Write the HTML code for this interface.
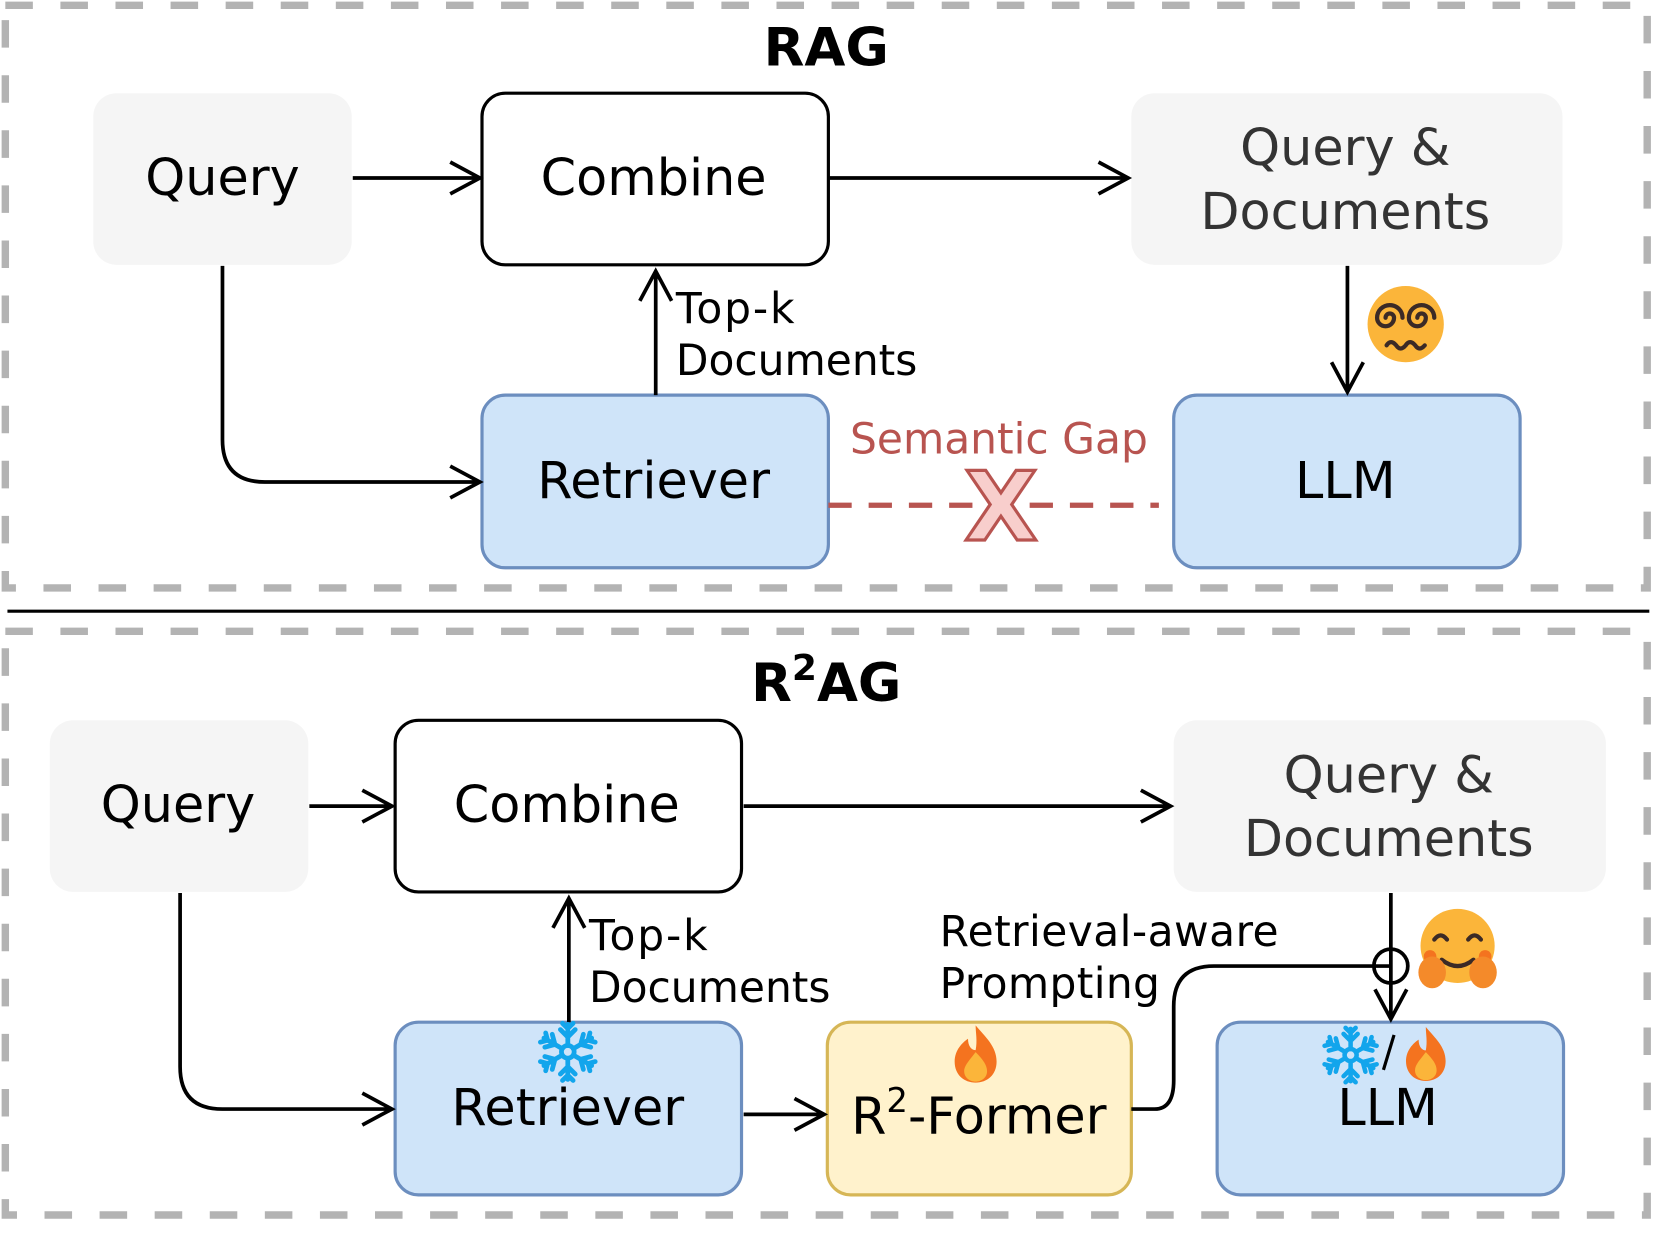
<!DOCTYPE html>
<html><head><meta charset="utf-8"><style>
html,body{margin:0;padding:0;background:#fff;}
svg{display:block;}
text{font-family:"DejaVu Sans","Liberation Sans",sans-serif;}
</style></head><body>
<svg width="1661" height="1233" viewBox="0 0 1568 1164" xmlns="http://www.w3.org/2000/svg">
<defs>
<g id="fire"><path d="M0,-30 C10,-18 22,-8 22,8 C22,22 12,30 0,30 C-12,30 -22,22 -22,8 C-22,-4 -14,-12 -8,-16 C-8,-8 -4,-4 0,-4 C2,-14 0,-22 0,-30 Z" fill="#f4731f"/><path d="M0,-2 C8,6 12,12 12,18 C12,25 6,29 0,29 C-6,29 -12,25 -12,18 C-12,12 -6,6 0,-2 Z" fill="#fbb53a"/></g>
<g id="snow" stroke="#12a5ec" stroke-width="4.5" fill="none" stroke-linecap="round"><circle r="6"/><g id="arm"><path d="M0,-6 L0,-26 M0,-14 L-7,-21 M0,-14 L7,-21 M0,-22 L-5,-27 M0,-22 L5,-27"/></g><use href="#arm" transform="rotate(60)"/><use href="#arm" transform="rotate(120)"/><use href="#arm" transform="rotate(180)"/><use href="#arm" transform="rotate(240)"/><use href="#arm" transform="rotate(300)"/></g>
</defs>
<g fill="none" stroke="#b3b3b3" stroke-width="7" stroke-dasharray="26 26">
<rect x="5" y="5" width="1550" height="550"/>
<rect x="5" y="596" width="1550" height="551"/>
</g>
<line x1="7" y1="577" x2="1557" y2="577" stroke="#000" stroke-width="3"/>

<text x="780" y="62" font-size="50" font-weight="bold" text-anchor="middle">RAG</text>
<rect x="88" y="88" width="244" height="162" rx="22" fill="#f5f5f5"/>
<text x="210" y="184" font-size="48" text-anchor="middle">Query</text>
<rect x="455" y="88" width="327" height="162" rx="22" fill="#fff" stroke="#000" stroke-width="3"/>
<text x="617" y="184" font-size="48" text-anchor="middle">Combine</text>
<rect x="1068" y="88" width="407" height="162" rx="22" fill="#f5f5f5"/>
<text x="1270" y="156" font-size="48" text-anchor="middle" fill="#333">Query &amp;</text>
<text x="1270" y="216" font-size="48" text-anchor="middle" fill="#333">Documents</text>
<rect x="455" y="373" width="327" height="163" rx="22" fill="#cfe4f9" stroke="#6c8ebf" stroke-width="3"/>
<text x="617" y="470" font-size="48" text-anchor="middle">Retriever</text>
<rect x="1108" y="373" width="327" height="163" rx="22" fill="#cfe4f9" stroke="#6c8ebf" stroke-width="3"/>
<text x="1270" y="470" font-size="48" text-anchor="middle">LLM</text>

<g stroke="#000" stroke-width="3.5" fill="none">
<path d="M333,168 L453,168 M425,153 L453,168 L425,183"/>
<path d="M783,168 L1065,168 M1037,153 L1065,168 L1037,183"/>
<path d="M210,251 L210,415 Q210,455 250,455 L453,455 M425,440 L453,455 L425,470"/>
<path d="M619,373 L619,256 M604,284 L619,256 L634,284"/>
<path d="M1272,251 L1272,370 M1257,342 L1272,370 L1287,342"/>
</g>
<text x="638" y="305" font-size="40" textLength="112">Top-k</text>
<text x="638" y="354" font-size="40" textLength="228">Documents</text>
<text x="943" y="428" font-size="40" text-anchor="middle" fill="#b85450">Semantic Gap</text>
<line x1="782" y1="477" x2="1094" y2="477" stroke="#b85450" stroke-width="5" stroke-dasharray="22 16"/>
<text x="945" y="510" font-size="90" font-weight="bold" text-anchor="middle" fill="#f8cecc" stroke="#b85450" stroke-width="3">X</text>
<circle cx="1327" cy="306" r="36" fill="#fbb53a"/>
<g stroke="#3b2a26" stroke-width="4" fill="none" stroke-linecap="round">
<path d="M1312,300 m-4,0 a4,4 0 1,1 8,0 a8,8 0 1,1 -16,0 a12,12 0 1,1 24,0"/>
<path d="M1342,300 m-4,0 a4,4 0 1,1 8,0 a8,8 0 1,1 -16,0 a12,12 0 1,1 24,0"/>
<path d="M1309,326 q4,-6 9,0 q4,6 9,0 q4,-6 9,0 q4,6 9,0"/>
</g>

<text x="780" y="662" font-size="50" font-weight="bold" text-anchor="middle">R<tspan dy="-20" font-size="34">2</tspan><tspan dy="20">AG</tspan></text>
<rect x="47" y="680" width="244" height="162" rx="22" fill="#f5f5f5"/>
<text x="168" y="776" font-size="48" text-anchor="middle">Query</text>
<rect x="373" y="680" width="327" height="162" rx="22" fill="#fff" stroke="#000" stroke-width="3"/>
<text x="535" y="776" font-size="48" text-anchor="middle">Combine</text>
<rect x="1108" y="680" width="408" height="162" rx="22" fill="#f5f5f5"/>
<text x="1311" y="748" font-size="48" text-anchor="middle" fill="#333">Query &amp;</text>
<text x="1311" y="808" font-size="48" text-anchor="middle" fill="#333">Documents</text>
<rect x="373" y="965" width="327" height="163" rx="22" fill="#cfe4f9" stroke="#6c8ebf" stroke-width="3"/>
<text x="536" y="1062" font-size="48" text-anchor="middle">Retriever</text>
<rect x="781" y="965" width="287" height="163" rx="22" fill="#fff2cc" stroke="#d6b656" stroke-width="3"/>
<text x="924" y="1070" font-size="48" text-anchor="middle">R<tspan dy="-20" font-size="32">2</tspan><tspan dy="20">-Former</tspan></text>
<rect x="1149" y="965" width="327" height="163" rx="22" fill="#cfe4f9" stroke="#6c8ebf" stroke-width="3"/>
<text x="1310" y="1062" font-size="48" text-anchor="middle">LLM</text>

<g stroke="#000" stroke-width="3.5" fill="none">
<path d="M292,761 L370,761 M342,746 L370,761 L342,776"/>
<path d="M702,761 L1105,761 M1077,746 L1105,761 L1077,776"/>
<path d="M170,843 L170,1007 Q170,1047 210,1047 L370,1047 M342,1032 L370,1047 L342,1062"/>
<path d="M537,965 L537,848 M522,876 L537,848 L552,876"/>
<path d="M702,1052 L778,1052 M750,1037 L778,1052 L750,1067"/>
<path d="M1068,1047 L1090,1047 Q1108,1047 1108,1020 L1108,950 Q1108,912 1146,912 L1313,912"/>
<path d="M1313,843 L1313,962 M1298,934 L1313,962 L1328,934"/>
<circle cx="1313" cy="912" r="16"/>
</g>
<text x="556" y="897" font-size="40" textLength="112">Top-k</text>
<text x="556" y="946" font-size="40" textLength="228">Documents</text>
<text x="887" y="893" font-size="40" textLength="320">Retrieval-aware</text>
<text x="887" y="942" font-size="40" textLength="208">Prompting</text>
<circle cx="1376" cy="893" r="35" fill="#fbb53a"/>
<circle cx="1350" cy="903" r="6" fill="#f4731f"/><circle cx="1402" cy="903" r="6" fill="#f4731f"/>
<g stroke="#3b2a26" stroke-width="4" fill="none" stroke-linecap="round">
<path d="M1354,887 q6,-8 12,0 M1386,887 q6,-8 12,0"/><path d="M1361,906 q15,12 30,0"/>
</g>
<ellipse cx="1352" cy="918" rx="13" ry="15" fill="#f48a2a"/><ellipse cx="1400" cy="918" rx="13" ry="15" fill="#f48a2a"/>
<use href="#snow" x="536" y="993"/>
<use href="#fire" transform="translate(921,995) scale(0.9)"/>
<use href="#snow" transform="translate(1275,996) scale(0.95)"/>
<line x1="1316" y1="977" x2="1306" y2="1010" stroke="#000" stroke-width="3"/>
<use href="#fire" transform="translate(1346,995) scale(0.85)"/>
</svg>
</body></html>
